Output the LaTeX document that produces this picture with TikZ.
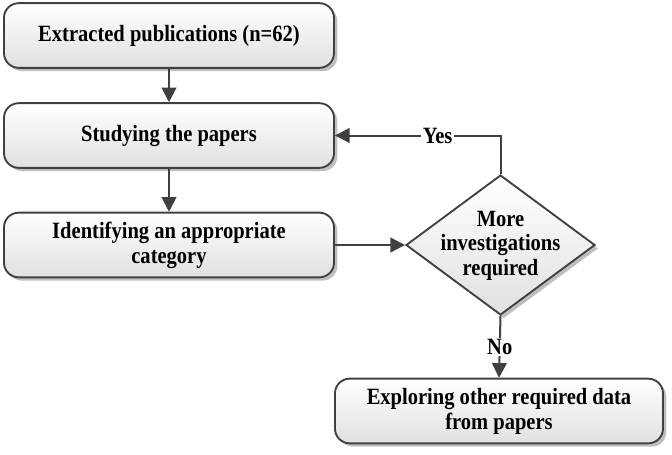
\documentclass[tikz,border=0pt]{standalone}
\usepackage{fontspec}
\setmainfont{Liberation Serif}[FakeStretch=0.88]
\usetikzlibrary{shapes.geometric,arrows.meta,shadows}
\definecolor{edge}{HTML}{404040}
\begin{document}
\begin{tikzpicture}[x=0.75pt,y=-0.75pt,
  every node/.style={font=\fontsize{17.5}{18.6}\selectfont\bfseries, align=center},
  boxshadow/.style={drop shadow={shadow xshift=2.5pt, shadow yshift=-2.5pt, fill=black, opacity=0.25}},
  stepbox/.style={rectangle, rounded corners=11pt, draw=edge, line width=1.4pt,
    top color=white, bottom color=black!12, boxshadow,
    minimum width=247.5pt, minimum height=48.5pt, inner sep=2pt},
  decision/.style={diamond, draw=edge, line width=1.4pt, top color=white, bottom color=black!12,
    boxshadow, minimum width=141.75pt, minimum height=105pt, inner sep=0pt},
  flow/.style={draw=edge, line width=1.5pt, -{Triangle[length=11pt,width=11pt]}},
  lbl/.style={fill=white, inner sep=1pt}]
\useasboundingbox (0,0) rectangle (672,454);
\node[stepbox] (b1) at (169,35.5) {Extracted publications (n=62)};
\node[stepbox] (b2) at (169,135.5) {Studying the papers};
\node[stepbox] (b3) at (169,245) {Identifying an appropriate\\category};
\node[decision] (d) at (500.5,245) {\makebox[0pt]{\smash{\raisebox{-5pt}{\begin{tabular}{@{}c@{}}More\\investigations\\required\end{tabular}}}}};
\node[stepbox, minimum width=246pt] (b4) at (499,411) {Exploring other required data\\from papers};
\draw[flow] (b1) -- (b2);
\draw[flow] (b2) -- (b3);
\draw[flow] (b3) -- (d);
\draw[flow] (d.north) |- node[lbl, pos=0.69] {Yes} (b2.east);
\draw[flow] (d.south) -- node[lbl] {No} (b4.north);
\end{tikzpicture}
\end{document}
